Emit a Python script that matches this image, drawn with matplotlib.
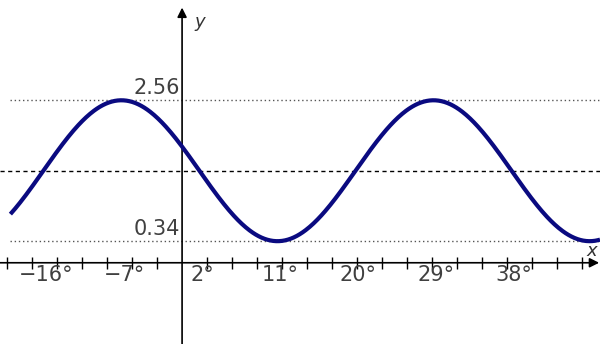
import numpy as np
import matplotlib.pyplot as plt

# values
y_max = 2.56
y_min = 0.34
x_peak = -7      # degrees, position of a maximum
period = 36      # degrees between the two maxima (-7 and 29)
x_labels = [-16, -7, 2, 11, 20, 29, 38]
tick_step = 2.88

mid = (y_max + y_min) / 2
amp = (y_max - y_min) / 2

xlo, xhi = -21.0, 48.2
ylo, yhi = -1.28, 4.14
x_start = -19.8

fig = plt.figure(figsize=(6, 3.44), dpi=100)
fig.set_facecolor('white')
ax = fig.add_axes([0, 0, 1, 1])
ax.set_xlim(xlo, xhi)
ax.set_ylim(ylo, yhi)
ax.axis('off')

# reference lines
ax.hlines([y_max, y_min], x_start, xhi, color='#555555', ls=(0, (1, 2)),
          lw=1.0, zorder=1)
ax.hlines(mid, xlo, xhi, color='black', ls=(0, (3, 2.5)), lw=1.0, zorder=1)

# axes with arrows
ax.annotate('', xy=(xhi - 0.1, 0), xytext=(xlo, 0),
            arrowprops=dict(arrowstyle='-|>', color='black', lw=1.2,
                            mutation_scale=14, shrinkA=0, shrinkB=0))
ax.annotate('', xy=(0, yhi - 0.12), xytext=(0, ylo),
            arrowprops=dict(arrowstyle='-|>', color='black', lw=1.2,
                            mutation_scale=14, shrinkA=0, shrinkB=0))
ax.text(xhi - 1.0, 0.05, 'x', style='italic', fontsize=13, color='#333333',
        ha='center', va='bottom')
ax.text(2.0, yhi - 0.2, 'y', style='italic', fontsize=13, color='#333333',
        ha='center', va='top')

# ticks
ticks = np.arange(-7, 17) * tick_step
ticks = ticks[ticks != 0]
ax.plot(ticks, np.zeros_like(ticks), ls='none', marker='|', ms=8,
        mew=1.0, color='black', zorder=3)
for xv in x_labels:
    lab = ('\u2212%d' % abs(xv) if xv < 0 else '%d' % xv) + '\u00b0'
    ax.text(xv + 0.3, -0.03, lab, fontsize=15, color='#404040',
            ha='center', va='top')

# value labels
ax.text(-0.2, y_max + 0.03, '%.2f' % y_max, fontsize=15, color='#404040',
        ha='right', va='bottom')
ax.text(-0.2, y_min + 0.03, '%.2f' % y_min, fontsize=15, color='#404040',
        ha='right', va='bottom')

# curve
x = np.linspace(x_start, xhi, 600)
y = mid + amp * np.cos(np.radians(360.0 / period * (x - x_peak)))
ax.plot(x, y, color='#0a0a80', lw=3.0, solid_capstyle='butt', zorder=4)

fig.savefig('out.png', dpi=100)
